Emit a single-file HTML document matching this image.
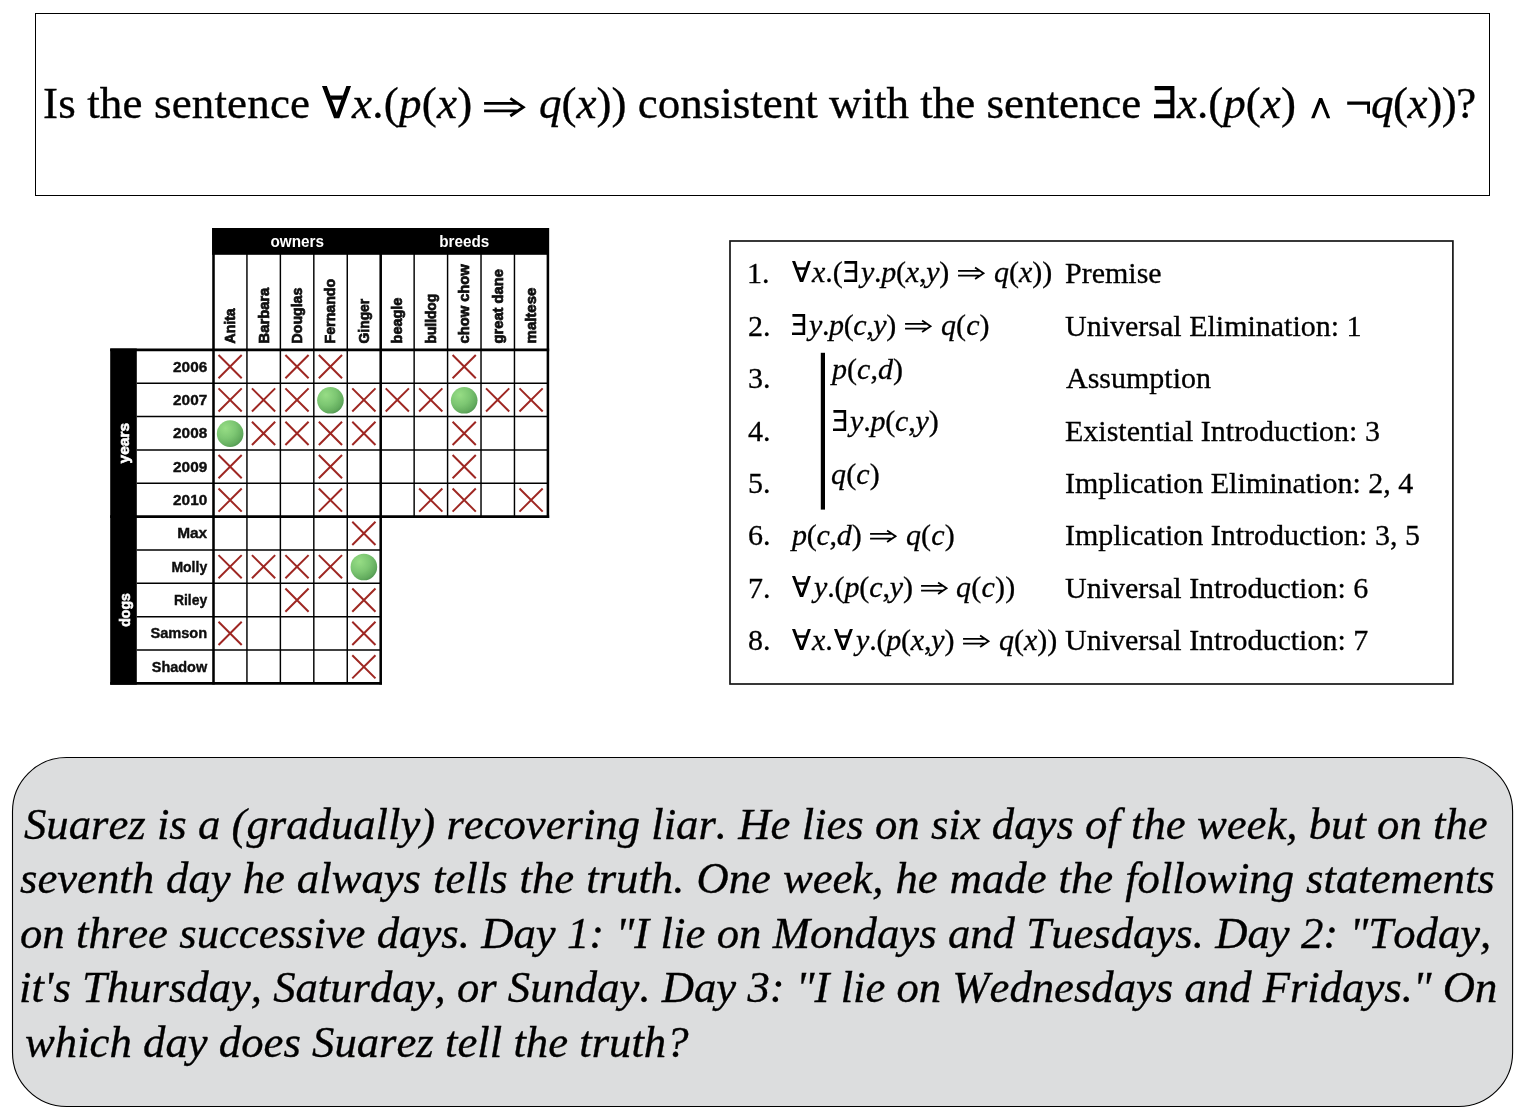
<!DOCTYPE html>
<html><head><meta charset="utf-8"><title>logic</title>
<style>
html,body{margin:0;padding:0;background:#fff}
body{width:1528px;height:1120px;position:relative;overflow:hidden;font-family:"Liberation Serif",serif;color:#000;font-kerning:none;font-variant-ligatures:none}
.abs{position:absolute;white-space:pre;line-height:1;will-change:transform;-webkit-text-stroke:0.35px #000}
.p30{-webkit-text-stroke:0.3px #000}
.it{font-style:italic}
svg.s{position:absolute;overflow:visible}
i{font-style:italic}
</style></head><body>
<svg width="0" height="0" style="position:absolute">
<defs>
<symbol id="fa" viewBox="190 262 465 520" preserveAspectRatio="none"><path d="M190,262 L268,262 L426,684 L580,262 L655,262 L465,782 L385,782 Z"/><path d="M318,415 L530,415 L506,480 L343,480 Z"/></symbol>
<symbol id="ex" viewBox="228 262 330 520" preserveAspectRatio="none"><path d="M238,262 H558 V782 H228 V715 H488 V545 H258 V482 H488 V330 H238 Z"/></symbol>
<symbol id="an" viewBox="340 448 310 330" preserveAspectRatio="none"><path d="M340,778 L470,450 L520,450 L650,778 L598,778 L495,525 L395,778 Z"/></symbol>
<symbol id="ar" viewBox="0 0 42 22.8" preserveAspectRatio="none"><path d="M0.1,7.4 H34.4 M0.1,14.9 H34.4 M26.3,2.3 L39.3,11.15 L26.3,20" fill="none" stroke="#000" stroke-width="2.8" stroke-miterlimit="10"/></symbol>
<filter id="soft" x="-2%" y="-2%" width="104%" height="104%"><feGaussianBlur stdDeviation="0.28"/></filter>
</defs></svg>

<div style="position:absolute;left:35px;top:13px;width:1453px;height:181px;border:1px solid #000"></div>
<div class="abs " style="left:42.57px;top:80.81px;font-size:45px;letter-spacing:0.150px;">Is the sentence</div>
<svg class="s" style="left:321.90px;top:86.40px" width="29.06" height="32.50"><use href="#fa"/></svg>
<div class="abs " style="left:351.80px;top:80.81px;font-size:45px;letter-spacing:0.238px;"><i>x</i>.(<i>p</i>(<i>x</i>)</div>
<svg class="s" style="left:484.00px;top:96.00px" width="42.00" height="22.80"><use href="#ar"/></svg>
<div class="abs " style="left:538.51px;top:80.81px;font-size:45px;"><i>q</i>(<i>x</i>)) consistent with the sentence</div>
<svg class="s" style="left:1154.25px;top:86.40px" width="20.65" height="32.50"><use href="#ex"/></svg>
<div class="abs " style="left:1177.15px;top:80.81px;font-size:45px;letter-spacing:0.029px;"><i>x</i>.(<i>p</i>(<i>x</i>)</div>
<svg class="s" style="left:1311.25px;top:98.00px" width="19.35" height="20.60"><use href="#an"/></svg>
<svg class="s" style="left:0;top:0" width="1528" height="200"><path d="M1347.2,101.4 H1370 V113.8 H1367.1 V104.7 H1347.2 Z"/></svg>
<div class="abs " style="left:1370.71px;top:80.81px;font-size:45px;letter-spacing:-0.453px;"><i>q</i>(<i>x</i>))?</div>
<svg id="grid" width="600" height="700" viewBox="0 0 600 700" style="position:absolute;left:0;top:0;font-family:'Liberation Sans',sans-serif"><defs><radialGradient id="gg" cx="0.33" cy="0.3" r="0.78"><stop offset="0" stop-color="#97dd85"/><stop offset="0.5" stop-color="#7cc672"/><stop offset="0.85" stop-color="#62ab5d"/><stop offset="1" stop-color="#4f9450"/></radialGradient></defs><g filter="url(#soft)"><rect x="212.1" y="228" width="336.9" height="26.8" fill="#000" transform="scale(1)"/><rect x="110.2" y="348.5" width="26.6" height="336.2" fill="#000"/><line x1="246.94" y1="254" x2="246.94" y2="683.35" stroke="#000" stroke-width="1.45"/><line x1="280.38" y1="254" x2="280.38" y2="683.35" stroke="#000" stroke-width="1.45"/><line x1="313.82" y1="254" x2="313.82" y2="683.35" stroke="#000" stroke-width="1.45"/><line x1="347.26" y1="254" x2="347.26" y2="683.35" stroke="#000" stroke-width="1.45"/><line x1="414.14" y1="254" x2="414.14" y2="516.60" stroke="#000" stroke-width="1.45"/><line x1="447.58" y1="254" x2="447.58" y2="516.60" stroke="#000" stroke-width="1.45"/><line x1="481.02" y1="254" x2="481.02" y2="516.60" stroke="#000" stroke-width="1.45"/><line x1="514.46" y1="254" x2="514.46" y2="516.60" stroke="#000" stroke-width="1.45"/><line x1="136.8" y1="383.20" x2="547.90" y2="383.20" stroke="#000" stroke-width="1.45"/><line x1="136.8" y1="416.55" x2="547.90" y2="416.55" stroke="#000" stroke-width="1.45"/><line x1="136.8" y1="449.90" x2="547.90" y2="449.90" stroke="#000" stroke-width="1.45"/><line x1="136.8" y1="483.25" x2="547.90" y2="483.25" stroke="#000" stroke-width="1.45"/><line x1="136.8" y1="549.95" x2="380.70" y2="549.95" stroke="#000" stroke-width="1.45"/><line x1="136.8" y1="583.30" x2="380.70" y2="583.30" stroke="#000" stroke-width="1.45"/><line x1="136.8" y1="616.65" x2="380.70" y2="616.65" stroke="#000" stroke-width="1.45"/><line x1="136.8" y1="650.00" x2="380.70" y2="650.00" stroke="#000" stroke-width="1.45"/><line x1="213.50" y1="228.00" x2="213.50" y2="684.62" stroke="#000" stroke-width="2.55"/><line x1="380.70" y1="254.00" x2="380.70" y2="684.62" stroke="#000" stroke-width="2.55"/><line x1="547.90" y1="228.00" x2="547.90" y2="517.88" stroke="#000" stroke-width="2.55"/><line x1="110.20" y1="349.85" x2="549.17" y2="349.85" stroke="#000" stroke-width="2.55"/><line x1="110.20" y1="516.60" x2="549.17" y2="516.60" stroke="#000" stroke-width="2.55"/><line x1="110.20" y1="683.35" x2="381.97" y2="683.35" stroke="#000" stroke-width="2.55"/><text x="297.25" y="246.70" font-size="16" font-weight="bold" fill="#fff" text-anchor="middle" textLength="53.6" lengthAdjust="spacingAndGlyphs">owners</text><text x="464.20" y="246.70" font-size="16" font-weight="bold" fill="#fff" text-anchor="middle" textLength="50" lengthAdjust="spacingAndGlyphs">breeds</text><text transform="translate(235.12,343.4) rotate(-90)" font-size="14" font-weight="bold" fill="#0a0a0a" stroke="#0a0a0a" stroke-width="0.7" textLength="35.0" lengthAdjust="spacingAndGlyphs">Anita</text><text transform="translate(268.56,343.4) rotate(-90)" font-size="14" font-weight="bold" fill="#0a0a0a" stroke="#0a0a0a" stroke-width="0.7" textLength="55.7" lengthAdjust="spacingAndGlyphs">Barbara</text><text transform="translate(302.00,343.4) rotate(-90)" font-size="14" font-weight="bold" fill="#0a0a0a" stroke="#0a0a0a" stroke-width="0.7" textLength="55.7" lengthAdjust="spacingAndGlyphs">Douglas</text><text transform="translate(335.44,343.4) rotate(-90)" font-size="14" font-weight="bold" fill="#0a0a0a" stroke="#0a0a0a" stroke-width="0.7" textLength="64.5" lengthAdjust="spacingAndGlyphs">Fernando</text><text transform="translate(368.88,343.4) rotate(-90)" font-size="14" font-weight="bold" fill="#0a0a0a" stroke="#0a0a0a" stroke-width="0.7" textLength="44.6" lengthAdjust="spacingAndGlyphs">Ginger</text><text transform="translate(402.32,343.4) rotate(-90)" font-size="14" font-weight="bold" fill="#0a0a0a" stroke="#0a0a0a" stroke-width="0.7" textLength="45.8" lengthAdjust="spacingAndGlyphs">beagle</text><text transform="translate(435.76,343.4) rotate(-90)" font-size="14" font-weight="bold" fill="#0a0a0a" stroke="#0a0a0a" stroke-width="0.7" textLength="49.5" lengthAdjust="spacingAndGlyphs">bulldog</text><text transform="translate(469.20,343.4) rotate(-90)" font-size="14" font-weight="bold" fill="#0a0a0a" stroke="#0a0a0a" stroke-width="0.7" textLength="79.0" lengthAdjust="spacingAndGlyphs">chow chow</text><text transform="translate(502.64,343.4) rotate(-90)" font-size="14" font-weight="bold" fill="#0a0a0a" stroke="#0a0a0a" stroke-width="0.7" textLength="74.2" lengthAdjust="spacingAndGlyphs">great dane</text><text transform="translate(536.08,343.4) rotate(-90)" font-size="14" font-weight="bold" fill="#0a0a0a" stroke="#0a0a0a" stroke-width="0.7" textLength="55.7" lengthAdjust="spacingAndGlyphs">maltese</text><text transform="translate(129.2,463.4) rotate(-90)" font-size="15" font-weight="bold" fill="#fff" stroke="#fff" stroke-width="0.6" textLength="40.6" lengthAdjust="spacingAndGlyphs">years</text><text transform="translate(129.6,626.8) rotate(-90)" font-size="15" font-weight="bold" fill="#fff" stroke="#fff" stroke-width="0.6" textLength="33.6" lengthAdjust="spacingAndGlyphs">dogs</text><text x="207.2" y="371.53" font-size="15" font-weight="bold" fill="#0a0a0a" stroke="#0a0a0a" stroke-width="0.35" text-anchor="end" textLength="34.1" lengthAdjust="spacingAndGlyphs">2006</text><text x="207.2" y="404.88" font-size="15" font-weight="bold" fill="#0a0a0a" stroke="#0a0a0a" stroke-width="0.35" text-anchor="end" textLength="34.1" lengthAdjust="spacingAndGlyphs">2007</text><text x="207.2" y="438.23" font-size="15" font-weight="bold" fill="#0a0a0a" stroke="#0a0a0a" stroke-width="0.35" text-anchor="end" textLength="34.1" lengthAdjust="spacingAndGlyphs">2008</text><text x="207.2" y="471.58" font-size="15" font-weight="bold" fill="#0a0a0a" stroke="#0a0a0a" stroke-width="0.35" text-anchor="end" textLength="34.1" lengthAdjust="spacingAndGlyphs">2009</text><text x="207.2" y="504.93" font-size="15" font-weight="bold" fill="#0a0a0a" stroke="#0a0a0a" stroke-width="0.35" text-anchor="end" textLength="34.1" lengthAdjust="spacingAndGlyphs">2010</text><text x="207.2" y="538.28" font-size="15" font-weight="bold" fill="#0a0a0a" stroke="#0a0a0a" stroke-width="0.35" text-anchor="end" textLength="30.0" lengthAdjust="spacingAndGlyphs">Max</text><text x="207.2" y="571.62" font-size="15" font-weight="bold" fill="#0a0a0a" stroke="#0a0a0a" stroke-width="0.35" text-anchor="end" textLength="35.8" lengthAdjust="spacingAndGlyphs">Molly</text><text x="207.2" y="604.98" font-size="15" font-weight="bold" fill="#0a0a0a" stroke="#0a0a0a" stroke-width="0.35" text-anchor="end" textLength="33.3" lengthAdjust="spacingAndGlyphs">Riley</text><text x="207.2" y="638.33" font-size="15" font-weight="bold" fill="#0a0a0a" stroke="#0a0a0a" stroke-width="0.35" text-anchor="end" textLength="56.8" lengthAdjust="spacingAndGlyphs">Samson</text><text x="207.2" y="671.67" font-size="15" font-weight="bold" fill="#0a0a0a" stroke="#0a0a0a" stroke-width="0.35" text-anchor="end" textLength="55.4" lengthAdjust="spacingAndGlyphs">Shadow</text><path d="M218.52,355.03L241.72,378.23M241.72,355.03L218.52,378.23" stroke="#9e2822" stroke-width="2" stroke-linecap="butt" fill="none"/><path d="M285.40,355.03L308.60,378.23M308.60,355.03L285.40,378.23" stroke="#9e2822" stroke-width="2" stroke-linecap="butt" fill="none"/><path d="M318.84,355.03L342.04,378.23M342.04,355.03L318.84,378.23" stroke="#9e2822" stroke-width="2" stroke-linecap="butt" fill="none"/><path d="M452.60,355.03L475.80,378.23M475.80,355.03L452.60,378.23" stroke="#9e2822" stroke-width="2" stroke-linecap="butt" fill="none"/><path d="M218.52,388.38L241.72,411.58M241.72,388.38L218.52,411.58" stroke="#9e2822" stroke-width="2" stroke-linecap="butt" fill="none"/><path d="M251.96,388.38L275.16,411.58M275.16,388.38L251.96,411.58" stroke="#9e2822" stroke-width="2" stroke-linecap="butt" fill="none"/><path d="M285.40,388.38L308.60,411.58M308.60,388.38L285.40,411.58" stroke="#9e2822" stroke-width="2" stroke-linecap="butt" fill="none"/><path d="M352.28,388.38L375.48,411.58M375.48,388.38L352.28,411.58" stroke="#9e2822" stroke-width="2" stroke-linecap="butt" fill="none"/><path d="M385.72,388.38L408.92,411.58M408.92,388.38L385.72,411.58" stroke="#9e2822" stroke-width="2" stroke-linecap="butt" fill="none"/><path d="M419.16,388.38L442.36,411.58M442.36,388.38L419.16,411.58" stroke="#9e2822" stroke-width="2" stroke-linecap="butt" fill="none"/><path d="M486.04,388.38L509.24,411.58M509.24,388.38L486.04,411.58" stroke="#9e2822" stroke-width="2" stroke-linecap="butt" fill="none"/><path d="M519.48,388.38L542.68,411.58M542.68,388.38L519.48,411.58" stroke="#9e2822" stroke-width="2" stroke-linecap="butt" fill="none"/><circle cx="330.44" cy="400.28" r="13.3" fill="url(#gg)"/><circle cx="464.20" cy="400.28" r="13.3" fill="url(#gg)"/><path d="M251.96,421.73L275.16,444.93M275.16,421.73L251.96,444.93" stroke="#9e2822" stroke-width="2" stroke-linecap="butt" fill="none"/><path d="M285.40,421.73L308.60,444.93M308.60,421.73L285.40,444.93" stroke="#9e2822" stroke-width="2" stroke-linecap="butt" fill="none"/><path d="M318.84,421.73L342.04,444.93M342.04,421.73L318.84,444.93" stroke="#9e2822" stroke-width="2" stroke-linecap="butt" fill="none"/><path d="M352.28,421.73L375.48,444.93M375.48,421.73L352.28,444.93" stroke="#9e2822" stroke-width="2" stroke-linecap="butt" fill="none"/><path d="M452.60,421.73L475.80,444.93M475.80,421.73L452.60,444.93" stroke="#9e2822" stroke-width="2" stroke-linecap="butt" fill="none"/><circle cx="230.12" cy="433.63" r="13.3" fill="url(#gg)"/><path d="M218.52,455.08L241.72,478.28M241.72,455.08L218.52,478.28" stroke="#9e2822" stroke-width="2" stroke-linecap="butt" fill="none"/><path d="M318.84,455.08L342.04,478.28M342.04,455.08L318.84,478.28" stroke="#9e2822" stroke-width="2" stroke-linecap="butt" fill="none"/><path d="M452.60,455.08L475.80,478.28M475.80,455.08L452.60,478.28" stroke="#9e2822" stroke-width="2" stroke-linecap="butt" fill="none"/><path d="M218.52,488.43L241.72,511.63M241.72,488.43L218.52,511.63" stroke="#9e2822" stroke-width="2" stroke-linecap="butt" fill="none"/><path d="M318.84,488.43L342.04,511.63M342.04,488.43L318.84,511.63" stroke="#9e2822" stroke-width="2" stroke-linecap="butt" fill="none"/><path d="M419.16,488.43L442.36,511.63M442.36,488.43L419.16,511.63" stroke="#9e2822" stroke-width="2" stroke-linecap="butt" fill="none"/><path d="M452.60,488.43L475.80,511.63M475.80,488.43L452.60,511.63" stroke="#9e2822" stroke-width="2" stroke-linecap="butt" fill="none"/><path d="M519.48,488.43L542.68,511.63M542.68,488.43L519.48,511.63" stroke="#9e2822" stroke-width="2" stroke-linecap="butt" fill="none"/><path d="M352.28,521.78L375.48,544.98M375.48,521.78L352.28,544.98" stroke="#9e2822" stroke-width="2" stroke-linecap="butt" fill="none"/><path d="M218.52,555.12L241.72,578.33M241.72,555.12L218.52,578.33" stroke="#9e2822" stroke-width="2" stroke-linecap="butt" fill="none"/><path d="M251.96,555.12L275.16,578.33M275.16,555.12L251.96,578.33" stroke="#9e2822" stroke-width="2" stroke-linecap="butt" fill="none"/><path d="M285.40,555.12L308.60,578.33M308.60,555.12L285.40,578.33" stroke="#9e2822" stroke-width="2" stroke-linecap="butt" fill="none"/><path d="M318.84,555.12L342.04,578.33M342.04,555.12L318.84,578.33" stroke="#9e2822" stroke-width="2" stroke-linecap="butt" fill="none"/><circle cx="363.88" cy="567.02" r="13.3" fill="url(#gg)"/><path d="M285.40,588.48L308.60,611.68M308.60,588.48L285.40,611.68" stroke="#9e2822" stroke-width="2" stroke-linecap="butt" fill="none"/><path d="M352.28,588.48L375.48,611.68M375.48,588.48L352.28,611.68" stroke="#9e2822" stroke-width="2" stroke-linecap="butt" fill="none"/><path d="M218.52,621.83L241.72,645.03M241.72,621.83L218.52,645.03" stroke="#9e2822" stroke-width="2" stroke-linecap="butt" fill="none"/><path d="M352.28,621.83L375.48,645.03M375.48,621.83L352.28,645.03" stroke="#9e2822" stroke-width="2" stroke-linecap="butt" fill="none"/><path d="M352.28,655.17L375.48,678.38M375.48,655.17L352.28,678.38" stroke="#9e2822" stroke-width="2" stroke-linecap="butt" fill="none"/></g></svg>
<svg style="position:absolute;left:0;top:0" width="1528" height="700"><rect x="730" y="241" width="722.9" height="443" fill="none" stroke="#161616" stroke-width="1.7"/><rect x="820.8" y="352.8" width="4.2" height="156.8" fill="#000"/></svg>
<div class="abs  p30" style="left:747.16px;top:258.18px;font-size:30px;">1.</div>
<div class="abs  p30" style="left:1064.94px;top:258.18px;font-size:30px;">Premise</div>
<div class="abs  p30" style="left:747.88px;top:310.62px;font-size:30px;">2.</div>
<div class="abs  p30" style="left:1065.17px;top:310.62px;font-size:30px;">Universal Elimination: 1</div>
<div class="abs  p30" style="left:747.86px;top:363.08px;font-size:30px;">3.</div>
<div class="abs  p30" style="left:1065.51px;top:363.08px;font-size:30px;">Assumption</div>
<div class="abs  p30" style="left:748.11px;top:415.53px;font-size:30px;">4.</div>
<div class="abs  p30" style="left:1064.94px;top:415.53px;font-size:30px;">Existential Introduction: 3</div>
<div class="abs  p30" style="left:747.76px;top:467.98px;font-size:30px;">5.</div>
<div class="abs  p30" style="left:1064.72px;top:467.98px;font-size:30px;">Implication Elimination: 2, 4</div>
<div class="abs  p30" style="left:748.11px;top:520.42px;font-size:30px;">6.</div>
<div class="abs  p30" style="left:1064.72px;top:520.42px;font-size:30px;">Implication Introduction: 3, 5</div>
<div class="abs  p30" style="left:747.92px;top:572.88px;font-size:30px;">7.</div>
<div class="abs  p30" style="left:1065.17px;top:572.88px;font-size:30px;">Universal Introduction: 6</div>
<div class="abs  p30" style="left:748.16px;top:625.33px;font-size:30px;">8.</div>
<div class="abs  p30" style="left:1065.17px;top:625.33px;font-size:30px;">Universal Introduction: 7</div>
<svg class="s" style="left:792.00px;top:261.38px" width="18.89" height="21.12"><use href="#fa"/></svg>
<div class="abs  p30" style="left:812.47px;top:257.18px;font-size:30px;"><i>x</i>.(</div>
<svg class="s" style="left:843.60px;top:261.38px" width="13.42" height="21.12"><use href="#ex"/></svg>
<div class="abs  p30" style="left:860.80px;top:257.18px;font-size:30px;letter-spacing:-0.245px;"><i>y</i>.<i>p</i>(<i>x</i>,<i>y</i>)</div>
<svg class="s" style="left:957.60px;top:266.33px" width="27.30" height="14.82"><use href="#ar"/></svg>
<div class="abs  p30" style="left:993.80px;top:257.18px;font-size:30px;letter-spacing:-0.018px;"><i>q</i>(<i>x</i>))</div>
<svg class="s" style="left:792.00px;top:314.02px" width="13.42" height="21.12"><use href="#ex"/></svg>
<div class="abs  p30" style="left:809.10px;top:309.82px;font-size:30px;letter-spacing:-0.388px;"><i>y</i>.<i>p</i>(<i>c</i>,<i>y</i>)</div>
<svg class="s" style="left:905.00px;top:318.98px" width="27.30" height="14.82"><use href="#ar"/></svg>
<div class="abs  p30" style="left:941.20px;top:309.82px;font-size:30px;letter-spacing:0.073px;"><i>q</i>(<i>c</i>)</div>
<div class="abs  p30" style="left:831.66px;top:353.88px;font-size:30px;letter-spacing:0.053px;"><i>p</i>(<i>c</i>,<i>d</i>)</div>
<svg class="s" style="left:832.60px;top:410.38px" width="13.42" height="21.12"><use href="#ex"/></svg>
<div class="abs  p30" style="left:849.80px;top:406.18px;font-size:30px;letter-spacing:-0.188px;"><i>y</i>.<i>p</i>(<i>c</i>,<i>y</i>)</div>
<div class="abs  p30" style="left:831.30px;top:458.88px;font-size:30px;letter-spacing:0.173px;"><i>q</i>(<i>c</i>)</div>
<div class="abs  p30" style="left:791.86px;top:519.62px;font-size:30px;letter-spacing:-0.247px;"><i>p</i>(<i>c</i>,<i>d</i>)</div>
<svg class="s" style="left:869.70px;top:528.78px" width="27.30" height="14.82"><use href="#ar"/></svg>
<div class="abs  p30" style="left:905.90px;top:519.62px;font-size:30px;letter-spacing:0.106px;"><i>q</i>(<i>c</i>)</div>
<svg class="s" style="left:792.00px;top:576.28px" width="18.89" height="21.12"><use href="#fa"/></svg>
<div class="abs  p30" style="left:813.50px;top:572.08px;font-size:30px;letter-spacing:-0.125px;"><i>y</i>.(<i>p</i>(<i>c</i>,<i>y</i>)</div>
<svg class="s" style="left:920.60px;top:581.23px" width="27.30" height="14.82"><use href="#ar"/></svg>
<div class="abs  p30" style="left:956.30px;top:572.08px;font-size:30px;letter-spacing:0.207px;"><i>q</i>(<i>c</i>))</div>
<svg class="s" style="left:792.00px;top:628.73px" width="18.89" height="21.12"><use href="#fa"/></svg>
<div class="abs  p30" style="left:812.47px;top:624.53px;font-size:30px;"><i>x</i>.</div>
<svg class="s" style="left:833.60px;top:628.73px" width="18.89" height="21.12"><use href="#fa"/></svg>
<div class="abs  p30" style="left:855.70px;top:624.53px;font-size:30px;letter-spacing:-0.200px;"><i>y</i>.(<i>p</i>(<i>x</i>,<i>y</i>)</div>
<svg class="s" style="left:962.75px;top:633.68px" width="27.30" height="14.82"><use href="#ar"/></svg>
<div class="abs  p30" style="left:998.80px;top:624.53px;font-size:30px;letter-spacing:0.007px;"><i>q</i>(<i>x</i>))</div>
<svg style="position:absolute;left:0;top:740px" width="1528" height="380"><rect x="12.5" y="17.5" width="1500.1" height="349" rx="54" ry="54" fill="#dcddde" stroke="#000" stroke-width="1.1"/></svg>
<div class="abs " style="left:24.48px;top:801.96px;font-size:44.7px;word-spacing:0.101px;"><i>Suarez is a (gradually) recovering liar. He lies on six days of the week, but on the</i></div>
<div class="abs " style="left:19.95px;top:856.36px;font-size:44.7px;word-spacing:0.887px;"><i>seventh day he always tells the truth. One week, he made the following statements</i></div>
<div class="abs " style="left:19.92px;top:910.76px;font-size:44.7px;word-spacing:0.198px;"><i>on three successive days. Day 1: "I lie on Mondays and Tuesdays. Day 2: "Today,</i></div>
<div class="abs " style="left:19.26px;top:965.16px;font-size:44.7px;word-spacing:0.019px;"><i>it's Thursday, Saturday, or Sunday. Day 3: "I lie on Wednesdays and Fridays." On</i></div>
<div class="abs " style="left:24.73px;top:1019.56px;font-size:44.7px;word-spacing:0.128px;"><i>which day does Suarez tell the truth?</i></div>
</body></html>
